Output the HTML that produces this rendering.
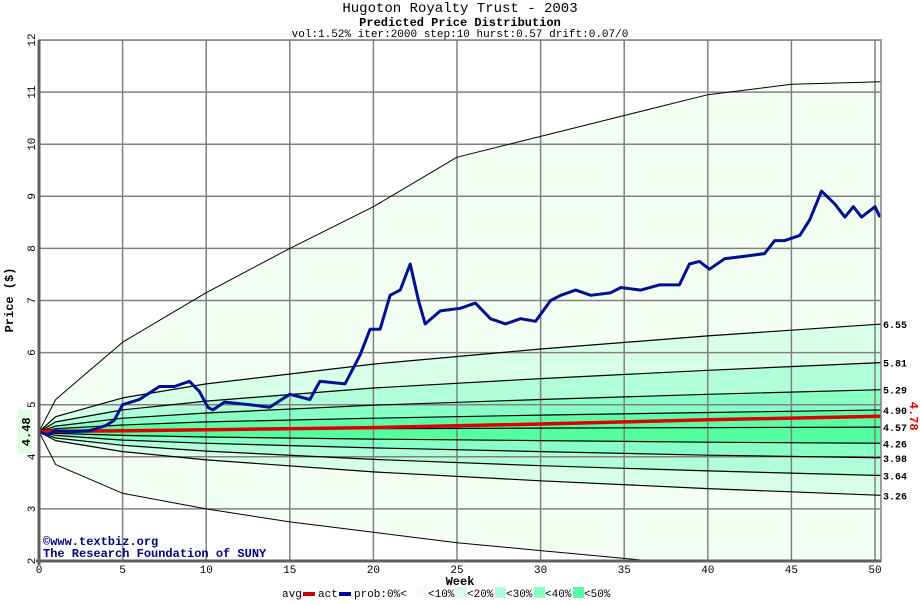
<!DOCTYPE html>
<html><head><meta charset="utf-8"><style>
body{margin:0;background:#fff;}
svg text{font-family:"Liberation Mono","DejaVu Sans Mono",monospace;}
</style></head><body>
<svg id="chart" width="920" height="600" xmlns="http://www.w3.org/2000/svg">
<text x="460" y="12" text-anchor="middle" font-size="14">Hugoton Royalty Trust - 2003</text>
<text x="460" y="26" text-anchor="middle" font-size="12" font-weight="bold">Predicted Price Distribution</text>
<text x="460" y="37" text-anchor="middle" font-size="11">vol:1.52% iter:2000 step:10 hurst:0.57 drift:0.07/0</text>
<g id="plot"></g>
<text transform="translate(13,300) rotate(-90)" text-anchor="middle" font-size="12" font-weight="bold">Price ($)</text>
<text x="460" y="585" text-anchor="middle" font-size="12" font-weight="bold">Week</text>
<text x="43" y="545" font-size="12" font-weight="bold" fill="#000080">©www.textbiz.org</text>
<text x="43" y="557" font-size="12" font-weight="bold" fill="#000080">The Research Foundation of SUNY</text>
<g id="legend"></g>
</svg>
<script>
const bandWeeks=[0,1,5,10,20,30,40,50.5];
const q655=[4.48,4.77,5.13,5.40,5.78,6.07,6.32,6.55];
const q581=[4.48,4.67,4.90,5.07,5.32,5.50,5.66,5.81];
const q529=[4.48,4.59,4.74,4.84,4.99,5.10,5.20,5.29];
const q490=[4.48,4.54,4.61,4.67,4.74,4.80,4.85,4.90];
const avgSeries=[4.48,4.49,4.50,4.52,4.56,4.63,4.71,4.78];
const q457=[4.48,4.49,4.51,4.52,4.54,4.55,4.56,4.57];
const q426=[4.48,4.45,4.41,4.38,4.34,4.31,4.28,4.26];
const q398=[4.48,4.41,4.32,4.26,4.17,4.10,4.03,3.98];
const q364=[4.48,4.36,4.22,4.11,3.95,3.83,3.73,3.64];
const q326=[4.48,4.31,4.10,3.94,3.71,3.54,3.39,3.26];
const envWeeks=[0,1,5,10,15,20,25,30,35,40,45,50.5];
const envUpper=[4.48,5.1,6.2,7.15,8.0,8.8,9.75,10.15,10.55,10.95,11.15,11.2];
const envLower=[4.48,3.85,3.3,3.0,2.75,2.55,2.35,2.2,2.05,1.9,1.8,1.7];
const endLabels=["6.55","5.81","5.29","4.90","4.57","4.26","3.98","3.64","3.26"];
const actWeeks=[0,0.5,1,2,3,4,4.5,5.0,6.0,7.2,8.1,9.0,9.6,10.1,10.4,11.1,12.6,13.8,15.0,16.2,16.8,18.3,19.2,19.8,20.4,21.0,21.6,22.2,22.7,23.1,24.0,25.2,26.1,27.0,27.9,28.8,29.7,30.6,31.2,32.1,33.0,34.2,34.8,36.0,37.1,38.3,38.9,39.5,40.1,41.0,42.2,43.4,44.0,44.6,45.5,46.1,46.8,47.6,48.2,48.7,49.2,50.0,50.3];
const actPrice=[4.48,4.42,4.5,4.48,4.5,4.6,4.7,5.0,5.1,5.35,5.35,5.45,5.25,4.95,4.9,5.05,5.0,4.95,5.2,5.1,5.45,5.4,5.95,6.45,6.45,7.1,7.2,7.7,7.0,6.55,6.8,6.85,6.95,6.65,6.55,6.65,6.6,7.0,7.1,7.2,7.1,7.15,7.25,7.2,7.3,7.3,7.7,7.75,7.6,7.8,7.85,7.9,8.15,8.15,8.25,8.55,9.1,8.85,8.6,8.8,8.6,8.8,8.6];
const yTicks=[2,3,4,5,6,7,8,9,10,11,12];
const xTicks=[0,5,10,15,20,25,30,35,40,45,50];

const NS="http://www.w3.org/2000/svg";
const X0=39,X1=881,Y0=40,Y1=561;
const xs=w=>X0+w*16.72;
const ys=p=>Y1-(p-2)*52.1;
const plot=document.getElementById('plot');
function mk(tag,attrs,parent){const e=document.createElementNS(NS,tag);for(const k in attrs)e.setAttribute(k,attrs[k]);(parent||plot).appendChild(e);return e;}
function pts(ws,vs){return ws.map((w,i)=>xs(w).toFixed(1)+','+ys(vs[i]).toFixed(1));}

const clip=mk('clipPath',{id:'pc'});mk('rect',{x:X0,y:Y0,width:X1-X0,height:Y1-Y0},clip);
const g=mk('g',{'clip-path':'url(#pc)'});
const bg=mk('rect',{x:X0,y:Y0,width:X1-X0,height:Y1-Y0,fill:'#ffffff'},g);


function band(ws,up,wl,lo,fill,name){
  const p=pts(ws,up).concat(pts(wl,lo).reverse());
  const e=mk('polygon',{points:p.join(' '),fill:fill},g);
  
  
}
band(envWeeks,envUpper,envWeeks,envLower,'#f2fff2','band-0pct');
band(bandWeeks,q655,bandWeeks,q326,'#d8ffe8','band-10pct');
band(bandWeeks,q581,bandWeeks,q364,'#b0ffd8','band-20pct');
band(bandWeeks,q529,bandWeeks,q398,'#88ffc4','band-30pct');
band(bandWeeks,q490,bandWeeks,q426,'#5cffa8','band-40pct');
band(bandWeeks,q457,bandWeeks,q426,'#55ffa0','band-50pct');
xTicks.forEach(t=>{const l=mk('line',{x1:xs(t),x2:xs(t),y1:Y0,y2:Y1,stroke:'#808080','stroke-width':1.5},g);

});
yTicks.forEach(t=>{const l=mk('line',{x1:X0,x2:X1,y1:ys(t),y2:ys(t),stroke:'#808080','stroke-width':1.5},g);

});
function line(ws,vs,color,w,name){const e=mk('polyline',{points:pts(ws,vs).join(' '),fill:'none',stroke:color,'stroke-width':w,'stroke-linejoin':'round'},g);

}
line(envWeeks,envUpper,'#000',1,'envelope-upper');
line(envWeeks,envLower,'#000',1,'envelope-lower');
[[q655,'6.55'],[q581,'5.81'],[q529,'5.29'],[q490,'4.90'],[q457,'4.57'],[q426,'4.26'],[q398,'3.98'],[q364,'3.64'],[q326,'3.26']].forEach(a=>line(bandWeeks,a[0],'#000',1.2,'quantile-line-'+a[1]));
line(bandWeeks,avgSeries,'#dd0000',3.5,'avg-line');
line(actWeeks,actPrice,'#001090',3,'actual-price-line');
const fr=mk('rect',{x:X0,y:Y0,width:X1-X0,height:Y1-Y0,fill:'none',stroke:'#808080','stroke-width':1.5});


const ax=mk('line',{x1:X0,x2:X0,y1:Y0,y2:Y1+4,stroke:'#606060','stroke-width':3});


const axx=mk('line',{x1:X0-3,x2:X1,y1:Y1,y2:Y1,stroke:'#606060','stroke-width':3});


yTicks.forEach(t=>{const e=mk('text',{transform:`translate(35,${ys(t)}) rotate(-90)`,'text-anchor':'middle','font-size':11});e.textContent=t;

});
xTicks.forEach(t=>{const e=mk('text',{x:xs(t),y:573,'text-anchor':'middle','font-size':11});e.textContent=t;

});
const endVals=[q655,q581,q529,q490,q457,q426,q398,q364,q326];
endVals.forEach((a,i)=>{const e=mk('text',{x:883,y:ys(a[a.length-1])+4,'font-size':10,'font-weight':'bold'});e.textContent=endLabels[i];

});
const sr=mk('rect',{x:18,y:ys(4.48)-22,width:14,height:44,fill:'#e0ffe0'});


const st=mk('text',{transform:`translate(30,${ys(4.48)}) rotate(-90)`,'text-anchor':'middle','font-size':12,'font-weight':'bold'});st.textContent='4.48';


const et=mk('text',{transform:`translate(910,${ys(avgSeries[avgSeries.length-1])}) rotate(90)`,'text-anchor':'middle','font-size':12,'font-weight':'bold',fill:'#dd0000'});et.textContent='4.78';


const lg=document.getElementById('legend');
const items=[['avg','#cc0000','legend-avg'],['act','#000099','legend-act']];
let lx=282;
items.forEach(it=>{const t=mk('text',{x:lx,y:597,'font-size':11},lg);t.textContent=it[0];


lx+=21;const r=mk('rect',{x:lx,y:592,width:12,height:4,fill:it[1]},lg);

lx+=15;});
const pt=mk('text',{x:lx,y:597,'font-size':11},lg);pt.textContent='prob:0%<';


lx+=63;
const lcols=['#f2fff2','#d8ffe8','#b0ffd8','#88ffc4','#55ffa0'];
const llabs=['<10%','<20%','<30%','<40%','<50%'];
lcols.forEach((c,i)=>{const r=mk('rect',{x:lx,y:587,width:11,height:11,fill:c},lg);


const t=mk('text',{x:lx+11,y:597,'font-size':11},lg);t.textContent=llabs[i];

lx+=39;});
</script>
</body></html>
